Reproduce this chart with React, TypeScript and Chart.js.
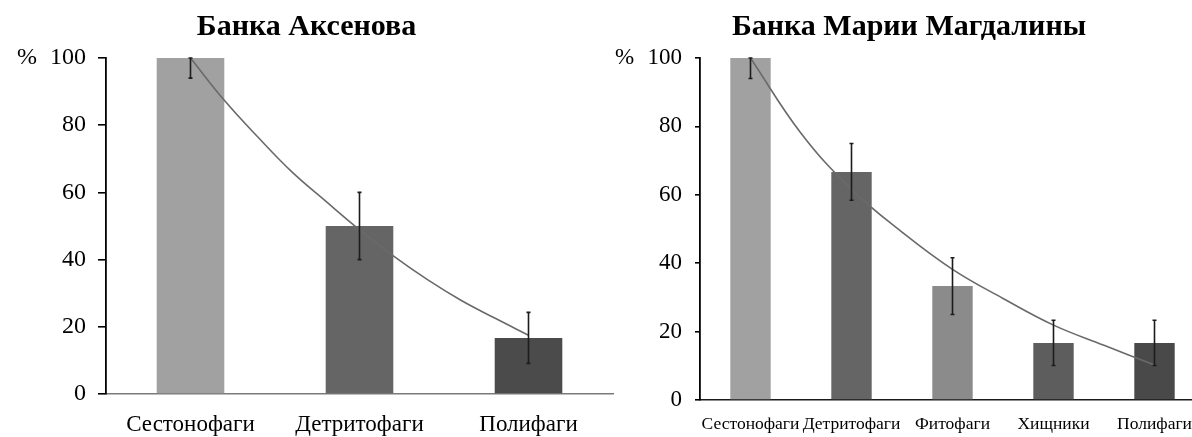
import React, { useEffect, useRef } from "react";
import { Chart, registerables } from "chart.js";

Chart.register(...registerables);

const SERIF = "'Liberation Serif', 'Times New Roman', serif";

// ---- Left panel: Банка Аксенова ----
const leftTitle = "Банка Аксенова";
const leftCategories = ["Сестонофаги", "Детритофаги", "Полифаги"];
const leftValues = [100, 50, 16.7];
const leftErrors = [6, 10, 7.6];
const leftColors = ["#a1a1a1", "#656565", "#4b4b4b"];
// trend curve (position in category units, value in %)
const leftTrendPos = [0, 0.2, 0.4, 0.6, 0.8, 1, 1.2, 1.4, 1.6, 1.8, 2];
const leftTrendValues = [100, 87.4, 76.4, 66.1, 57.4, 48.9, 41.1, 34.1, 27.9, 22.6, 17.5];

// ---- Right panel: Банка Марии Магдалины ----
const rightTitle = "Банка Марии Магдалины";
const rightCategories = ["Сестонофаги", "Детритофаги", "Фитофаги", "Хищники", "Полифаги"];
const rightValues = [100, 66.7, 33.3, 16.7, 16.7];
const rightErrors = [6, 8.3, 8.3, 6.6, 6.6];
const rightColors = ["#a1a1a1", "#656565", "#8b8b8b", "#5d5d5d", "#494949"];
const rightTrendPos = [0, 0.5, 1, 1.5, 2, 2.5, 3, 3.5, 4];
const rightTrendValues = [100, 78, 61.6, 49.1, 38.2, 29.7, 21.9, 16, 10.2];

const yMin = 0;
const yMax = 100;
const yStep = 20;
const percentSign = "%";

type PanelProps = {
  left: number;
  width: number;
  title: string;
  categories: string[];
  values: number[];
  errors: number[];
  colors: string[];
  trendPos: number[];
  trendValues: number[];
  tickSize: number;
  labelSize: number;
  padRight: number;
  yAxisWidth: number;
  xAxisHeight: number;
  xLabelPadding: number;
  yLabelPadding: number;
  yTickLength: number;
  percentX: number;
  baselineColor: string;
};

function Panel(p: PanelProps) {
  const ref = useRef<HTMLCanvasElement | null>(null);

  useEffect(() => {
    if (!ref.current) return;
    const n = p.categories.length;

    const errorBars = {
      id: "errorBars",
      afterDatasetsDraw(chart: any) {
        const meta = chart.getDatasetMeta(0);
        const ys = chart.scales.y;
        const ctx = chart.ctx;
        ctx.save();
        ctx.strokeStyle = "#1c1c1c";
        ctx.lineWidth = 1.6;
        meta.data.forEach((bar: any, i: number) => {
          const v = p.values[i];
          const e = p.errors[i];
          const top = ys.getPixelForValue(Math.min(v + e, yMax));
          const bot = ys.getPixelForValue(Math.max(v - e, yMin));
          const x = bar.x;
          ctx.beginPath();
          ctx.moveTo(x, top);
          ctx.lineTo(x, bot);
          ctx.moveTo(x - 2, top);
          ctx.lineTo(x + 2, top);
          ctx.moveTo(x - 2, bot);
          ctx.lineTo(x + 2, bot);
          ctx.stroke();
        });
        ctx.restore();
      },
    };

    const percent = {
      id: "percentSign",
      afterDraw(chart: any) {
        const ys = chart.scales.y;
        const ctx = chart.ctx;
        ctx.save();
        ctx.fillStyle = "#000";
        ctx.font = `${p.tickSize}px ${SERIF}`;
        ctx.textAlign = "left";
        ctx.textBaseline = "middle";
        ctx.fillText(percentSign, p.percentX, ys.getPixelForValue(yMax));
        ctx.restore();
      },
    };

    const chart = new Chart(ref.current, {
      type: "bar",
      data: {
        labels: p.categories,
        datasets: [
          {
            type: "bar",
            data: p.values,
            backgroundColor: p.colors,
            borderWidth: 0,
            grouped: false,
            categoryPercentage: 0.4,
            barPercentage: 1,
            order: 2,
            xAxisID: "x",
            yAxisID: "y",
          } as any,
          {
            type: "line",
            data: p.trendPos.map((t, i) => ({ x: t, y: p.trendValues[i] })),
            borderColor: "#6a6a6a",
            borderWidth: 1.6,
            pointRadius: 0,
            fill: false,
            tension: 0.4,
            order: 1,
            xAxisID: "xt",
            yAxisID: "y",
          } as any,
        ],
      },
      options: {
        responsive: false,
        animation: false,
        devicePixelRatio: 1,
        layout: { padding: { left: 0, right: p.padRight, top: 0, bottom: 0 } },
        plugins: {
          legend: { display: false },
          tooltip: { enabled: false },
          title: {
            display: true,
            text: p.title,
            color: "#000",
            font: { family: SERIF, size: 30, weight: "bold" },
            padding: { top: 9, bottom: 13 },
          },
        },
        scales: {
          x: {
            type: "category",
            offset: true,
            grid: { display: false, drawTicks: false },
            border: { display: true, color: p.baselineColor, width: 1.6 },
            ticks: {
              color: "#000",
              font: { family: SERIF, size: p.labelSize },
              padding: p.xLabelPadding,
              maxRotation: 0,
              minRotation: 0,
              autoSkip: false,
            },
            afterFit: (s: any) => {
              s.height = p.xAxisHeight;
            },
          },
          xt: {
            type: "linear",
            display: false,
            offset: false,
            min: -0.5,
            max: n - 0.5,
          },
          y: {
            type: "linear",
            min: yMin,
            max: yMax,
            grid: {
              drawOnChartArea: false,
              drawTicks: true,
              tickLength: p.yTickLength,
              color: "#000",
              lineWidth: 1.6,
            },
            border: { display: true, color: "#000", width: 1.8 },
            ticks: {
              stepSize: yStep,
              color: "#000",
              font: { family: SERIF, size: p.tickSize },
              padding: p.yLabelPadding,
            },
            afterFit: (s: any) => {
              s.width = p.yAxisWidth;
            },
          },
        },
      } as any,
      plugins: [errorBars, percent],
    });
    return () => chart.destroy();
  }, []);

  return (
    <canvas
      ref={ref}
      width={p.width}
      height={437}
      style={{ position: "absolute", left: p.left, top: 0, width: p.width, height: 437 }}
    />
  );
}

export default function App() {
  return (
    <div
      style={{
        position: "fixed",
        left: 0,
        top: 0,
        width: 1192,
        height: 437,
        overflow: "hidden",
        background: "#fff",
      }}
    >
      <Panel
        left={0}
        width={620}
        title={leftTitle}
        categories={leftCategories}
        values={leftValues}
        errors={leftErrors}
        colors={leftColors}
        trendPos={leftTrendPos}
        trendValues={leftTrendValues}
        tickSize={24}
        labelSize={23}
        padRight={7}
        yAxisWidth={106}
        xAxisHeight={43}
        xLabelPadding={17}
        yLabelPadding={12}
        yTickLength={8}
        percentX={17}
        baselineColor="#7a7a7a"
      />
      <Panel
        left={613}
        width={602}
        title={rightTitle}
        categories={rightCategories}
        values={rightValues}
        errors={rightErrors}
        colors={rightColors}
        trendPos={rightTrendPos}
        trendValues={rightTrendValues}
        tickSize={23}
        labelSize={17.5}
        padRight={10}
        yAxisWidth={87}
        xAxisHeight={37}
        xLabelPadding={14}
        yLabelPadding={13}
        yTickLength={5}
        percentX={2}
        baselineColor="#1a1a1a"
      />
    </div>
  );
}
